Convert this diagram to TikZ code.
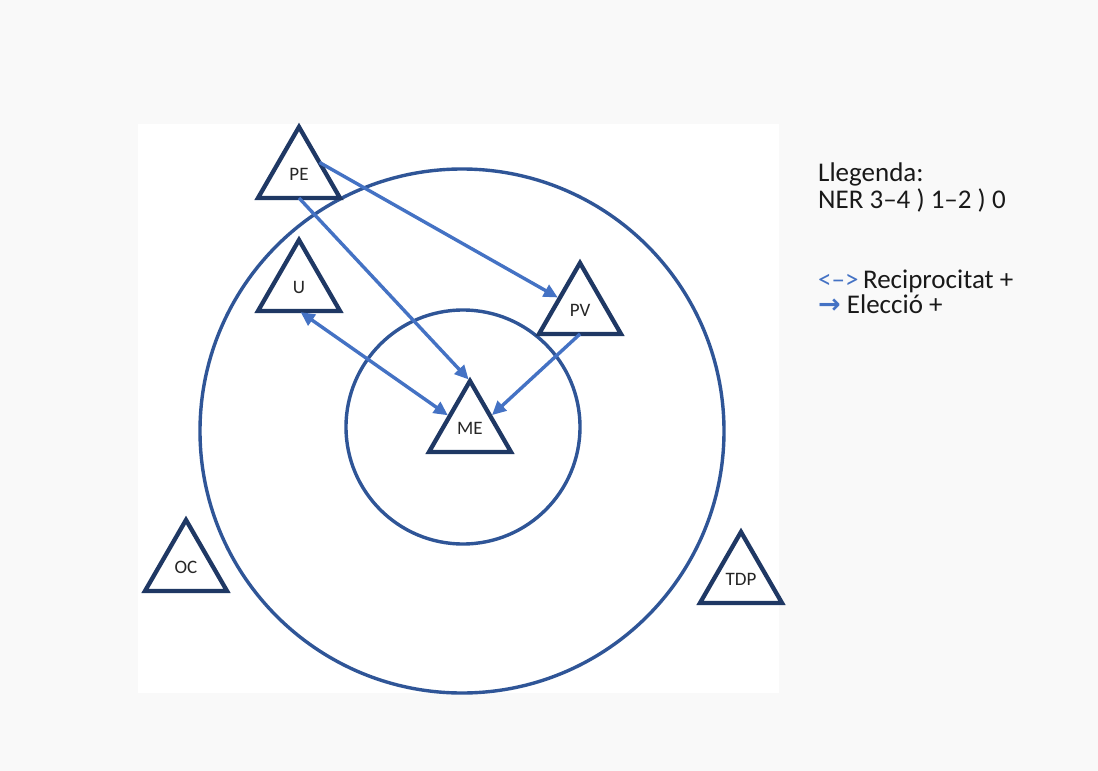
\documentclass[tikz,border=0pt]{standalone}
\usepackage{fontspec}
\setmainfont{Carlito}
\newfontfamily\symfont{DejaVu Sans}
\usetikzlibrary{shapes.geometric,arrows.meta}
\definecolor{bgc}{HTML}{F9F9F9}
\definecolor{navy}{HTML}{1F3864}
\definecolor{ringc}{HTML}{2F5597}
\definecolor{arrc}{HTML}{4472C4}
\tikzset{
 tri/.style={regular polygon, regular polygon sides=3, minimum size=94.7pt, inner sep=0pt, outer sep=0pt, draw=navy, line width=4.3pt, fill=white, font=\fontsize{19}{22}\selectfont, text=black!85},
 ring/.style={draw=ringc, line width=3.4pt},
 arr/.style={draw=arrc, line width=3.4pt, shorten >=2pt, -{Triangle[length=14pt,width=13pt]}},
 darr/.style={draw=arrc, line width=3.4pt, shorten >=2pt, shorten <=2pt, {Triangle[length=14pt,width=13pt]}-{Triangle[length=14pt,width=13pt]}},
 leg/.style={anchor=base west, inner sep=0pt, font=\fontsize{27}{32}\selectfont, text=black!90}
}
\begin{document}
\begin{tikzpicture}[x=1pt,y=-1pt]
\fill[bgc] (0,0) rectangle (1098,771);
\useasboundingbox (0,0) rectangle (1098,771);
\fill[white] (138,124) rectangle (779,693);
\draw[ring] (462,431) circle[radius=262];
\draw[ring] (463,427) circle[radius=117];
\node[tri] (PE) at (299,174.3) {PE};
\node[tri] (U) at (299,287.3) {U};
\node[tri] (PV) at (580,310.3) {PV};
\node[tri] (ME) at (470,428.3) {ME};
\node[tri] (OC) at (186,567.3) {OC};
\node[tri] (TDP) at (741,579.3) {TDP};
\draw[arr] (PE.side 2) -- (ME.corner 1);
\draw[arr] (PE.side 3) -- (PV.side 1);
\draw[darr] (U.side 2) -- (ME.side 1);
\draw[arr] (PV.side 2) -- (ME.side 3);
\node[leg] (l1) at (818,181) {Llegenda:};
\node[leg] (l2) at (818,208) {NER 3–4 ) 1–2 ) 0};
\node[leg] (l3) at (818,288) {\textcolor{arrc}{<–>}\,Reciprocitat +};
\node[leg] (l4) at (818,313) {\textcolor{arrc}{\symfont\bfseries →} Elecció +};
\end{tikzpicture}
\end{document}
